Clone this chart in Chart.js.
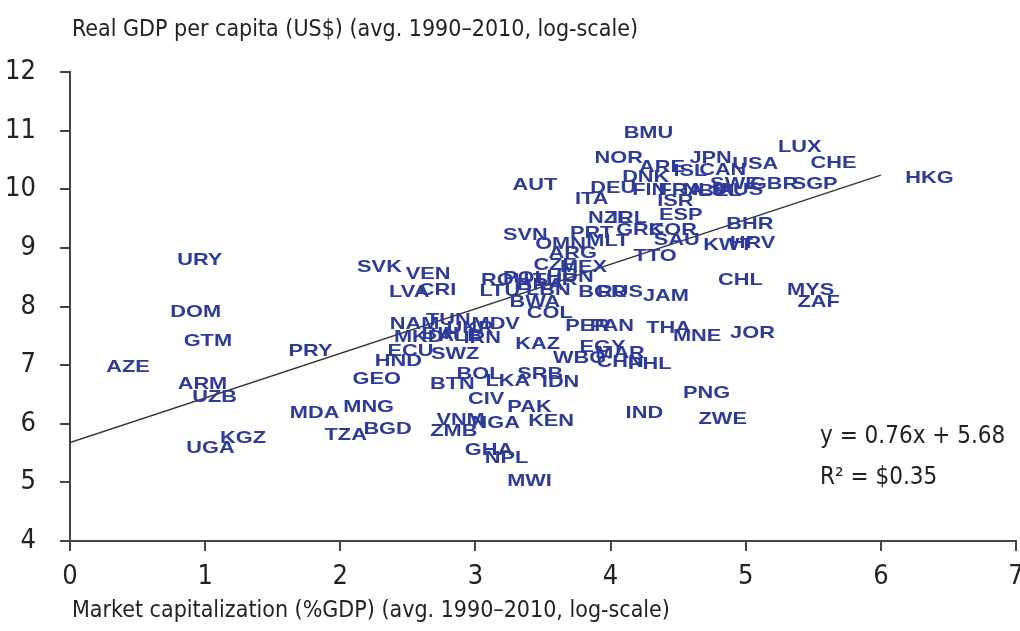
<!DOCTYPE html>
<html>
<head>
<meta charset="utf-8">
<script src="https://cdn.jsdelivr.net/npm/chart.js@4/dist/chart.umd.min.js"></script>
<style>
  html, body { margin: 0; padding: 0; background: #fff; }
  #wrap { width: 1020px; height: 631px; }
</style>
</head>
<body>
<div id="wrap"><canvas id="chart" width="1020" height="631"></canvas></div>
<script>
// country codes, market cap (log, x) and GDP per capita (log, y)
const countryCodes = [
  'BMU','NOR','JPN','ARE','ISL','CAN','USA','DNK','SWE','FIN','FRA','BEL','NLD','AUS','GBR','SGP','CHE','LUX','HKG',
  'AUT','DEU','ITA','ISR','ESP','NZL','IRL','PRT','GRC','KOR','BHR','SVN','OMN','MLT','ARG','SAU','KWT','HRV','TTO',
  'CZE','MEX','HUN','ROU','POL','TUR','BRA','LBN','LTU','BWA','COL','BGR','RUS','JAM','CHL','MYS','ZAF',
  'SVK','VEN','LVA','CRI','URY','DOM','GTM','PRY','AZE','ARM','UZB','UGA','KGZ','MDA','MNG','TZA','BGD',
  'GEO','HND','ECU','SWZ','NAM','TUN','MKD','BIH','ALB','UKR','IRN','MDV','KAZ','PER','PAN','THA','MNE','JOR',
  'EGY','MAR','WBG','CHN','PHL','BOL','LKA','SRB','IDN','BTN','CIV','PAK','KEN','IND','PNG','ZWE',
  'ZMB','VNM','NGA','GHA','NPL','MWI'
];
const marketCap = [
  4.28,4.06,4.74,4.38,4.59,4.83,5.07,4.26,4.92,4.29,4.52,4.81,4.70,4.96,5.21,5.51,5.65,5.40,6.36,
  3.44,4.02,3.86,4.48,4.52,3.99,4.14,3.86,4.22,4.46,5.03,3.37,3.63,3.98,3.72,4.49,4.87,5.05,4.33,
  3.59,3.80,3.70,3.22,3.37,3.59,3.48,3.54,3.18,3.44,3.55,3.94,4.07,4.41,4.96,5.48,5.54,
  2.29,2.65,2.51,2.72,0.96,0.93,1.02,1.78,0.43,0.98,1.07,1.04,1.28,1.81,2.21,2.04,2.35,
  2.27,2.43,2.52,2.85,2.55,2.80,2.58,2.74,2.89,2.96,3.05,3.15,3.46,3.83,4.01,4.43,4.64,5.05,
  3.94,4.07,3.77,4.07,4.29,3.03,3.24,3.48,3.63,2.83,3.08,3.40,3.56,4.25,4.71,4.83,
  2.84,2.89,3.15,3.10,3.23,3.40
];
const gdpPerCapita = [
  10.95,10.52,10.52,10.37,10.30,10.33,10.42,10.20,10.09,9.99,9.99,9.96,9.99,9.99,10.08,10.08,10.44,10.71,10.18,
  10.06,10.01,9.82,9.80,9.56,9.51,9.51,9.25,9.30,9.30,9.41,9.22,9.06,9.12,8.91,9.13,9.05,9.08,8.86,
  8.70,8.67,8.50,8.45,8.48,8.45,8.36,8.27,8.26,8.07,7.88,8.24,8.24,8.17,8.45,8.27,8.07,
  8.67,8.55,8.24,8.27,8.79,7.90,7.40,7.23,6.97,6.68,6.45,5.58,5.75,6.18,6.28,5.80,5.91,
  6.76,7.07,7.24,7.18,7.69,7.76,7.48,7.52,7.50,7.62,7.45,7.69,7.35,7.66,7.66,7.62,7.50,7.55,
  7.30,7.21,7.12,7.04,7.02,6.85,6.73,6.85,6.71,6.68,6.42,6.28,6.04,6.18,6.52,6.08,
  5.87,6.06,6.01,5.54,5.41,5.01
];

const xTicks = [0, 1, 2, 3, 4, 5, 6, 7];
const yTicks = [4, 5, 6, 7, 8, 9, 10, 11, 12];

// fitted line y = 0.76x + 5.68, drawn from x = 0 to x = 6
const slope = 0.76;
const intercept = 5.68;
const fitRange = [0, 6];

const yTitle = 'Real GDP per capita (US$) (avg. 1990\u20132010, log-scale)';
const xTitle = 'Market capitalization (%GDP) (avg. 1990\u20132010, log-scale)';
const equationText = 'y = 0.76x + 5.68';
const r2Text = 'R\u00b2 = $0.35';

const narrow = "'Liberation Sans Narrow', 'DejaVu Sans Condensed', 'Roboto Condensed', 'Open Sans', sans-serif";
const labelBlue = '#2d3b9a';

const points = countryCodes.map((c, i) => ({ x: marketCap[i], y: gdpPerCapita[i] }));
const fitLine = fitRange.map(x => ({ x: x, y: slope * x + intercept }));

const labelsPlugin = {
  id: 'countryLabels',
  afterDatasetsDraw(chart) {
    const ctx = chart.ctx;
    const meta = chart.getDatasetMeta(0);
    ctx.save();
    ctx.fillStyle = labelBlue;
    ctx.font = "bold 17px 'Liberation Sans', Arial, sans-serif";
    ctx.textAlign = 'center';
    ctx.textBaseline = 'middle';
    meta.data.forEach((pt, i) => {
      ctx.save();
      ctx.translate(pt.x, pt.y);
      ctx.scale(1.28, 1);
      ctx.fillText(countryCodes[i], 0, 0);
      ctx.restore();
    });
    ctx.restore();
  },
  afterDraw(chart) {
    const ctx = chart.ctx;
    ctx.save();
    ctx.fillStyle = '#222';
    ctx.textBaseline = 'middle';
    ctx.textAlign = 'left';
    ctx.font = '23px ' + narrow;
    ctx.fillText(yTitle, 72, 30);
    ctx.fillText(xTitle, 72, 611);
    ctx.font = '24px ' + narrow;
    ctx.fillText(equationText, 820, 437);
    ctx.fillText(r2Text, 820, 478);
    ctx.restore();
  }
};

new Chart(document.getElementById('chart').getContext('2d'), {
  type: 'scatter',
  data: {
    datasets: [
      {
        label: 'countries',
        data: points,
        pointRadius: 0,
        pointHoverRadius: 0,
        backgroundColor: 'rgba(0,0,0,0)'
      },
      {
        label: 'fit',
        type: 'line',
        data: fitLine,
        borderColor: '#333',
        borderWidth: 1.3,
        pointRadius: 0,
        fill: false
      }
    ]
  },
  options: {
    responsive: false,
    animation: false,
    events: [],
    layout: { padding: { top: 72, right: 4, left: 0, bottom: 0 } },
    plugins: {
      legend: { display: false },
      tooltip: { enabled: false }
    },
    scales: {
      x: {
        type: 'linear',
        min: 0,
        max: 7,
        afterFit(scale) {
          scale.height = 90;
          scale.paddingLeft = 0;
          scale.paddingRight = 0;
        },
        afterBuildTicks(scale) { scale.ticks = xTicks.map(v => ({ value: v })); },
        grid: { drawOnChartArea: false, drawTicks: true, tickLength: 10, color: '#444', lineWidth: 2 },
        border: { color: '#444', width: 2 },
        ticks: { color: '#222', padding: 10, font: { family: narrow, size: 27 }, maxRotation: 0 }
      },
      y: {
        type: 'linear',
        min: 4,
        max: 12,
        afterFit(scale) { scale.width = 70; },
        afterBuildTicks(scale) { scale.ticks = yTicks.map(v => ({ value: v })); },
        grid: { drawOnChartArea: false, drawTicks: true, tickLength: 10, color: '#444', lineWidth: 2 },
        border: { color: '#444', width: 2 },
        ticks: { color: '#222', padding: 24, font: { family: narrow, size: 27 } }
      }
    }
  },
  plugins: [labelsPlugin]
});
</script>
</body>
</html>
